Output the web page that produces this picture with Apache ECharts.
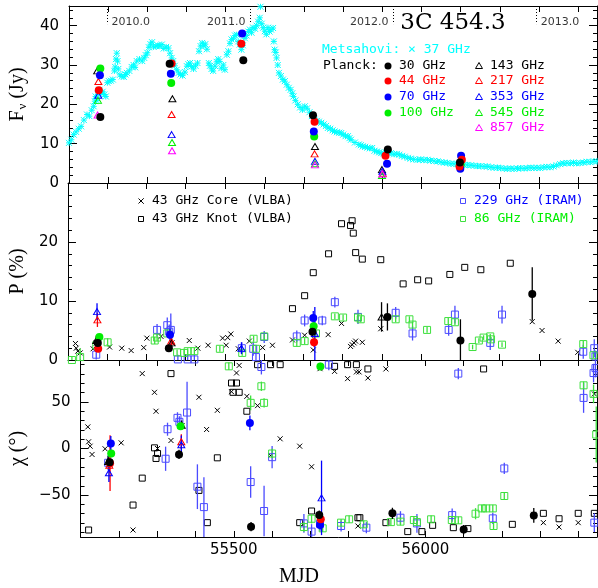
<!DOCTYPE html>
<html>
<head>
<meta charset="utf-8">
<script src="https://cdn.jsdelivr.net/npm/echarts@6.0.0/dist/echarts.min.js"></script>
<style>
  html, body { margin: 0; padding: 0; background: #fff; }
  #chart { width: 598px; height: 588px; }
</style>
</head>
<body>
<div id="chart"></div>
<script>
  // ---- axes ----
  const mjdMin = 55100;
  const mjdMax = 56448;
  const mjdTicks = [55100, 55200, 55300, 55400, 55500, 55600, 55700, 55800, 55900, 56000, 56100, 56200, 56300, 56400];
  const mjdLabels = [55500, 56000];
  const fluxMajor = [0, 10, 20, 30, 40];
  const fluxMinor = [2, 4, 6, 8, 12, 14, 16, 18, 22, 24, 26, 28, 32, 34, 36, 38, 42, 44];
  const polMajor = [0, 10, 20];
  const polMinor = [2, 4, 6, 8, 12, 14, 16, 18, 22, 24, 26, 28];
  const chiMajor = [-50, 0, 50];
  const chiMinor = [-90, -80, -70, -60, -40, -30, -20, -10, 10, 20, 30, 40, 60, 70, 80, 90];

  // year markers
  const yearMjd = [55197, 55562, 55927, 56293];
  const yearText = ['2010.0', '2011.0', '2012.0', '2013.0'];
  const yearSide = ['right', 'left', 'left', 'right'];

  // ---- panel 1: flux density (Jy) ----
  const metsahovi = [
    [55100, 10.2], [55106, 11.0], [55112, 12.3], [55118, 13.0], [55125, 13.8], [55131, 14.4], [55138, 16.0],
    [55146, 17.4], [55152, 17.0], [55158, 18.5], [55163, 19.5], [55166, 20.8], [55168, 22.0], [55171, 21.0],
    [55174, 22.5], [55178, 23.7], [55182, 22.8], [55186, 23.2], [55190, 22.5], [55194, 22.0], [55198, 25.5],
    [55202, 25.9], [55207, 26.0], [55212, 26.3], [55216, 28.5], [55218, 29.5], [55220, 31.5], [55222, 33.0],
    [55224, 31.0], [55226, 29.0], [55230, 27.5], [55235, 27.1], [55240, 27.0], [55244, 27.6], [55248, 28.0],
    [55254, 28.5], [55260, 29.5], [55265, 30.0], [55269, 29.4], [55273, 31.0], [55280, 31.5], [55287, 31.0],
    [55292, 31.8], [55296, 32.5], [55300, 33.1], [55304, 34.5], [55308, 35.3], [55312, 35.8], [55316, 34.6],
    [55322, 34.8], [55327, 35.0], [55332, 34.8], [55337, 35.2], [55342, 34.2], [55348, 34.6], [55354, 34.3],
    [55358, 33.0], [55362, 31.8], [55366, 31.0], [55370, 29.8], [55375, 28.8], [55380, 28.0], [55385, 27.6],
    [55390, 27.3], [55396, 28.2], [55401, 29.7], [55405, 30.2], [55409, 30.5], [55413, 29.6], [55418, 29.0],
    [55423, 29.8], [55428, 30.5], [55432, 33.5], [55436, 34.8], [55440, 35.6], [55444, 34.9], [55448, 35.3],
    [55452, 34.0], [55457, 30.5], [55460, 29.8], [55464, 29.0], [55468, 28.5], [55473, 29.7], [55477, 30.8],
    [55481, 31.5], [55485, 30.9], [55489, 29.2], [55494, 30.0], [55498, 28.8], [55503, 32.6], [55507, 33.5],
    [55511, 35.5], [55515, 36.5], [55520, 36.8], [55524, 37.5], [55528, 37.7], [55532, 36.0], [55536, 35.2],
    [55540, 33.9], [55544, 35.0], [55549, 36.8], [55553, 37.5], [55558, 38.5], [55562, 39.0], [55566, 38.2],
    [55570, 39.5], [55575, 39.2], [55579, 40.0], [55583, 41.0], [55587, 42.0], [55589, 44.8], [55592, 40.5],
    [55596, 39.5], [55600, 38.6], [55604, 37.8], [55608, 39.5], [55612, 38.5], [55616, 39.0], [55621, 39.4],
    [55623, 36.0], [55625, 33.9], [55628, 33.2], [55630, 31.8], [55633, 30.0], [55636, 28.0], [55641, 27.2],
    [55646, 26.3], [55651, 25.9], [55656, 25.0], [55661, 24.2], [55666, 23.7], [55670, 22.8], [55673, 22.0],
    [55678, 21.0], [55684, 20.0], [55690, 19.2], [55696, 18.6], [55702, 19.5], [55708, 19.0], [55714, 18.0],
    [55720, 17.0], [55727, 16.1], [55733, 15.8], [55738, 15.6], [55744, 15.3], [55750, 14.9], [55756, 14.5],
    [55761, 14.0], [55767, 13.8], [55773, 13.4], [55778, 13.1], [55784, 12.9], [55790, 12.8], [55795, 12.7],
    [55800, 12.3], [55806, 11.9], [55812, 11.9], [55816, 11.4], [55820, 11.0], [55830, 10.3], [55840, 9.8],
    [55845, 9.6], [55850, 9.3], [55856, 9.2], [55862, 9.0], [55868, 8.8], [55874, 8.9], [55880, 8.2],
    [55886, 8.0], [55892, 7.8], [55897, 7.6], [55904, 7.5], [55910, 7.7], [55916, 7.6], [55922, 7.6],
    [55930, 7.3], [55937, 7.4], [55943, 7.2], [55950, 6.9], [55957, 6.7], [55965, 6.4], [55972, 6.2],
    [55980, 6.0], [55990, 5.9], [55998, 6.0], [56006, 5.8], [56015, 5.9], [56023, 5.7], [56032, 5.6],
    [56041, 5.5], [56050, 5.3], [56058, 5.2], [56066, 5.1], [56075, 4.9], [56083, 4.9], [56092, 4.8],
    [56100, 4.7], [56108, 4.6], [56117, 4.6], [56126, 4.5], [56134, 4.4], [56143, 4.3], [56151, 4.3],
    [56160, 4.2], [56168, 4.2], [56177, 4.0], [56185, 3.9], [56194, 3.9], [56202, 3.8], [56211, 3.7],
    [56219, 3.6], [56228, 3.7], [56236, 3.6], [56245, 3.7], [56253, 3.8], [56262, 3.7], [56270, 3.8],
    [56279, 3.9], [56287, 3.8], [56295, 3.9], [56303, 3.8], [56312, 4.0], [56320, 4.1], [56328, 4.0],
    [56337, 4.2], [56345, 4.5], [56354, 4.8], [56362, 5.0], [56371, 5.1], [56380, 5.0], [56388, 5.2],
    [56396, 5.0], [56405, 5.1], [56414, 5.2], [56422, 5.4], [56431, 5.3], [56440, 5.5], [56448, 5.5]
  ];
  const planck30F = [[55180, 16.8], [55357, 30.3], [55545, 31.2], [55723, 17.2], [55914, 8.5], [56098, 5.2]];
  const planck44F = [[55176, 23.6], [55362, 30.4], [55540, 35.4], [55727, 15.6], [55908, 6.9], [56103, 5.9], [56097, 4.2]];
  const planck70F = [[55179, 27.4], [55360, 27.8], [55542, 38.0], [55725, 13.1], [55912, 4.9], [56101, 6.9], [56099, 3.6]];
  const planck100F = [[55180, 29.1], [55361, 25.4], [55726, 11.8], [56100, 4.6]];
  const planck143F = [[55172, 28.5], [55364, 21.4], [55728, 9.3], [55899, 3.4]];
  const planck217F = [[55175, 25.8], [55362, 17.4], [55727, 7.4], [55901, 2.5]];
  const planck353F = [[55175, 22.3], [55362, 12.3], [55728, 5.5], [55900, 3.0]];
  const planck545F = [[55174, 21.0], [55363, 10.3], [55728, 4.9], [55899, 1.9]];
  const planck857F = [[55173, 17.3], [55363, 8.2], [55728, 4.6], [55900, 2.3]];

  // ---- panel 2: polarization degree (%) [mjd, P, err] ----
  const coreP = [
    [55119, 2.8], [55121, 2.0], [55125, 1.5], [55131, 1.2], [55164, 1.9], [55172, 2.9], [55206, 2.2], [55237, 2.0],
    [55261, 1.6], [55293, 2.1], [55301, 3.7], [55337, 4.0], [55365, 2.9], [55409, 3.3], [55431, 2.0], [55457, 2.5],
    [55494, 3.7], [55503, 2.5], [55507, 3.8], [55515, 4.4], [55534, 1.9], [55562, 3.2], [55596, 2.1], [55621, 2.5],
    [55672, 3.4], [55703, 4.2], [55725, 1.7], [55763, 4.3], [55797, 6.2], [55820, 2.3], [55824, 2.6], [55829, 2.9],
    [55833, 3.2], [55850, 3.0], [55897, 5.3], [56283, 6.5], [56308, 5.0], [56349, 3.2], [56399, 1.3]
  ];
  const knotP = [
    [55672, 8.7], [55703, 10.9], [55725, 14.8], [55764, 18.0], [55797, 23.1], [55820, 22.8], [55824, 23.6],
    [55827, 21.5], [55833, 18.2], [55850, 17.1], [55897, 17.0], [55954, 12.9], [55991, 13.6], [56019, 13.4],
    [56073, 14.5], [56111, 15.7], [56152, 15.3], [56227, 16.4]
  ];
  const iram229P = [
    [55172, 0.9, 0.8], [55327, 5.1, 1.0], [55353, 5.9, 1.3], [55358, 4.8, 1.2], [55362, 5.1, 2.8], [55380, 0.1, 0.8],
    [55405, 0.1, 0.8], [55422, 0.1, 0.8], [55543, 2.0, 1.0], [55572, 1.9, 1.2], [55579, 0.5, 0.8], [55600, 3.9, 1.0],
    [55683, 4.0, 1.0], [55703, 6.7, 1.0], [55748, 6.7, 0.8], [55780, 9.8, 0.9], [55839, 7.3, 1.2], [55935, 8.0, 1.0],
    [55978, 4.5, 1.2], [56070, 5.1, 1.0], [56086, 7.7, 1.5], [56176, 2.9, 1.2], [56206, 7.7, 1.5], [56413, 1.4, 1.2],
    [56441, 2.0, 1.5], [56444, 0.6, 1.0]
  ];
  const iram86P = [
    [55110, 0.0, 0.5], [55131, 0.5, 1.5], [55172, 2.5, 0.6], [55201, 3.0, 0.7], [55321, 3.3, 0.6], [55327, 3.8, 0.6],
    [55353, 4.5, 0.6], [55378, 1.3, 0.5], [55396, 1.2, 0.5], [55405, 1.5, 0.5], [55422, 1.5, 0.6], [55487, 1.9, 0.5],
    [55544, 1.2, 0.5], [55573, 3.6, 0.5], [55579, 1.9, 0.5], [55600, 4.0, 0.6], [55683, 2.9, 0.6], [55703, 3.2, 0.5],
    [55732, 4.5, 0.5], [55780, 7.4, 0.5], [55801, 7.2, 0.5], [55839, 7.2, 0.5], [55846, 6.9, 0.5], [55935, 6.9, 0.5],
    [55970, 6.9, 0.5], [55978, 6.0, 0.5], [56015, 5.1, 0.5], [56069, 6.6, 0.5], [56086, 6.4, 0.5], [56131, 2.2, 0.4],
    [56147, 3.3, 0.4], [56159, 3.8, 0.4], [56176, 4.0, 0.4], [56178, 3.5, 0.4], [56206, 2.6, 0.4], [56413, 2.7, 0.5],
    [56439, 0.8, 0.5]
  ];
  const planck30P = [[55176, 2.9, 0.6], [55357, 2.0, 0.5], [55723, 4.8, 1.0], [55914, 7.3, 2.3], [56100, 3.3, 3.6], [56283, 11.2, 4.5]];
  const planck44P = [[55177, 1.9, 0.6], [55727, 3.0, 0.8]];
  const planck70P = [[55360, 4.3, 1.0], [55725, 7.1, 1.2]];
  const planck100P = [[55180, 3.9, 0.5], [55726, 5.7, 1.0]];
  const planck143P = [[55172, 3.3, 0.8], [55364, 2.9, 0.8], [55899, 7.3, 2.5]];
  const planck217P = [[55175, 6.8, 1.2], [55363, 3.2, 1.0]];
  const planck353P = [[55174, 8.2, 1.4], [55542, 2.0, 1.0], [55729, 4.5, 4.5]];

  // ---- panel 3: polarization angle (deg) [mjd, chi, err] ----
  const coreChi = [
    [55119, 23.2], [55121, 7.2], [55125, 2.5], [55130, -6.4], [55164, -0.3], [55206, 6.1], [55237, -87.5], [55261, 80.4],
    [55293, 60.3], [55297, 40.0], [55301, 0.0], [55336, 8.6], [55365, 24.6], [55409, 55.0], [55429, 20.4], [55457, 41.0],
    [55494, 61.0], [55507, 81.1], [55514, 89.2], [55534, 56.0], [55562, 46.0], [55596, -7.5], [55621, 10.4], [55672, 2.5],
    [55703, -19.6], [55725, 85.7], [55763, 82.8], [55797, 75.0], [55820, 82.2], [55827, 82.2], [55824, -83.2], [55850, 75.7],
    [55897, 85.4], [56283, -70.7], [56308, -79.6], [56349, -84.3], [56399, -79.6], [56441, 58.6]
  ];
  const knotChi = [
    [55121, -87.5], [55237, -60.7], [55261, -31.8], [55293, 0.7], [55297, -10.7], [55301, -5.4], [55336, 80.4], [55409, -45.0],
    [55431, -79.6], [55457, -10.0], [55494, 70.3], [55507, 70.3], [55498, 60.3], [55514, 60.3], [55534, 40.0], [55562, 90.0],
    [55596, 90.0], [55621, 90.0], [55672, -79.6], [55703, -67.1], [55763, 88.2], [55797, 90.0], [55820, 90.0], [55824, -74.3],
    [55829, -74.3], [55850, 85.4], [55897, -79.6], [55954, -89.2], [55991, -89.2], [56019, -82.5], [56073, -85.0],
    [56111, -86.0], [56152, 85.4], [56227, -81.4], [56308, -69.6], [56349, -75.4], [56399, -69.6], [56441, -69.6]
  ];
  const iram229Chi = [
    [55172, -15.3, 8], [55322, -11, 13], [55327, 20.7, 7], [55353, 32.9, 6], [55358, 28.6, 6], [55378, 38.6, 33],
    [55405, -41, 24], [55422, -62.9, 32], [55544, -36, 17], [55572, 87.5, 8], [55579, -67.1, 27], [55600, -9.3, 12],
    [55683, -80.4, 10], [55703, -89.2, 8], [55725, -80.7, 8], [55748, 90, 6], [55780, -83.2, 6], [55846, -85, 6],
    [55935, -74.3, 7], [55978, -80.4, 10], [56070, -71.5, 7], [56086, 80.4, 6], [56176, -75, 6], [56206, -21.4, 6],
    [56413, 54.3, 16], [56439, 81, 10], [56444, 86.3, 10], [56441, -79.6, 10]
  ];
  const iram86Chi = [
    [55487, 88.2, 4], [55544, 49, 8], [55572, 66.8, 5], [55579, 49, 5], [55600, -5.4, 5], [55683, -84.3, 5],
    [55703, -75.4, 5], [55732, -85.7, 4], [55780, -79.6, 4], [55801, -76, 4], [55839, -81.4, 4], [55910, -79, 4],
    [55935, -78.5, 4], [55970, -76.8, 4], [55978, -79, 4], [56015, -76, 4], [56069, -76.8, 4], [56086, -77.1, 4],
    [56131, -70, 6], [56147, -64.3, 4], [56159, -64.3, 4], [56176, -64.3, 4], [56178, -83.2, 4], [56206, -51, 4],
    [56413, 67.8, 4], [56439, 58.6, 10], [56446, 15, 30]
  ];
  const planck30Chi = [[55176, -14.7, 5], [55357, -6.4, 5], [55545, -83.9, 5], [55723, -71.5, 5], [55914, -69.6, 6], [56100, -87, 5], [56283, -71.8, 8]];
  const planck44Chi = [[55177, -15.7, 30], [55727, -76, 6]];
  const planck70Chi = [[55179, 5.4, 8], [55542, 27.5, 8], [55725, -82, 5]];
  const planck100Chi = [[55180, -5.4, 4], [55361, 23.9, 4], [55726, 88, 4]];
  const planck143Chi = [[55172, -14, 6], [55364, 25, 5]];
  const planck217Chi = [[55175, -18, 8], [55363, 7.2, 8]];
  const planck353Chi = [[55174, -26, 10], [55363, 4, 10], [55729, -53, 40]];

  // ---- styles ----
  const BLACK = '#000000', RED = '#ff0000', BLUE = '#0000ff', GREEN = '#00ee00', MAGENTA = '#ff00ff', CYAN = '#00ffff';
  const IRAM_BLUE = '#4b4bff', IRAM_GREEN = '#3ee03e';
  const CROSS = 'path://M0,0L10,10M10,0L0,10';
  const STAR = 'path://M0,0L10,10M10,0L0,10M5,0L5,10M0,5L10,5';
  const SQUARE = 'path://M0,0L10,0L10,10L0,10Z';
  const TRI = 'path://M5,0L10,9L0,9Z';
  const TICK_FONT = 'DejaVu Sans';
  const SERIF = 'Liberation Serif';

  const grids = [
    { left: 67, width: 530, top: 6, height: 177 },
    { left: 67, width: 530, top: 183, height: 177 },
    { left: 67, width: 530, top: 360, height: 177 },
  ];

  const xAxes = [];
  grids.forEach((g, i) => {
    ['bottom', 'top'].forEach((pos) => {
      xAxes.push({
        type: 'value', gridIndex: i, position: pos, min: mjdMin, max: mjdMax,
        splitLine: { show: false },
        axisLine: { show: true, onZero: false, lineStyle: { color: '#000', width: 1 } },
        axisTick: { show: true, inside: true, length: 6, customValues: mjdTicks, lineStyle: { color: '#000' } },
        axisLabel: {
          show: i === 2 && pos === 'bottom', customValues: mjdLabels, margin: 6,
          color: '#000', fontFamily: TICK_FONT, fontSize: 15,
          formatter: (v) => String(v),
        },
      });
    });
  });

  const yAxes = [];
  function addY(gi, min, max, major, minor, name, nameGap, rich) {
    ['left', 'right'].forEach((pos) => {
      yAxes.push({
        type: 'value', gridIndex: gi, position: pos, min, max,
        name: pos === 'left' ? name : '', nameLocation: 'middle', nameRotate: 90, nameGap,
        nameTextStyle: { color: '#000', fontFamily: SERIF, fontSize: 20, rich },
        splitLine: { show: false },
        axisLine: { show: true, onZero: false, lineStyle: { color: '#000', width: 1 } },
        axisTick: { show: true, inside: true, length: 8, customValues: major, lineStyle: { color: '#000' } },
        axisLabel: {
          show: pos === 'left', customValues: major, margin: 10, color: '#000', fontFamily: TICK_FONT, fontSize: 15,
          formatter: (v) => String(v).replace('-', '\u2212'),
        },
      });
      yAxes.push({
        type: 'value', gridIndex: gi, position: pos, min, max,
        splitLine: { show: false }, axisLine: { show: false },
        axisTick: { show: true, inside: true, length: 4, customValues: minor, lineStyle: { color: '#000' } },
        axisLabel: { show: false },
      });
    });
  }
  addY(0, 0, 45, fluxMajor, fluxMinor, '{f|F}{s|\u03bd}{f| (Jy)}', 38, {
    f: { fontFamily: SERIF, fontSize: 20, color: '#000' },
    s: { fontFamily: SERIF, fontSize: 13, color: '#000', padding: [9, 0, 0, 1] },
  });
  addY(1, 0, 30, polMajor, polMinor, 'P (%)', 38);
  addY(2, -95, 95, chiMajor, chiMinor, '\u03c7 (\u00b0)', 38);

  const series = [];
  // scatter helper; g = panel index
  function sc(data, g, symbol, color, size, z, filled) {
    series.push({
      type: 'scatter', data, xAxisIndex: g * 2, yAxisIndex: g * 4, symbol, symbolSize: size, z,
      clip: true, silent: true,
      itemStyle: filled
        ? { color, opacity: 1 }
        : { color: 'rgba(0,0,0,0)', borderColor: color, borderWidth: 1, opacity: 1 },
    });
  }
  function err(data, g, color, z) {
    series.push({
      type: 'custom', data, xAxisIndex: g * 2, yAxisIndex: g * 4, z, clip: true, silent: true,
      encode: { x: 0, y: 1 },
      renderItem: (params, api) => {
        const x = api.value(0), v = api.value(1), e = api.value(2);
        const a = api.coord([x, v - e]);
        const b = api.coord([x, v + e]);
        return { type: 'line', shape: { x1: a[0], y1: a[1], x2: b[0], y2: b[1] }, style: { stroke: color, lineWidth: 1.3 } };
      },
    });
  }

  // panel 1
  sc(metsahovi, 0, STAR, CYAN, 6, 2, false);
  sc(planck143F, 0, TRI, BLACK, [7, 6], 4, false);
  sc(planck217F, 0, TRI, RED, [7, 6], 4, false);
  sc(planck353F, 0, TRI, BLUE, [7, 6], 4, false);
  sc(planck545F, 0, TRI, GREEN, [7, 6], 4, false);
  sc(planck857F, 0, TRI, MAGENTA, [7, 6], 4, false);
  sc(planck100F, 0, 'circle', GREEN, 8, 5, true);
  sc(planck70F, 0, 'circle', BLUE, 8, 5, true);
  sc(planck44F, 0, 'circle', RED, 8, 5, true);
  sc(planck30F, 0, 'circle', BLACK, 8, 5, true);
  // year markers
  series.push({
    type: 'scatter', xAxisIndex: 0, yAxisIndex: 0, symbol: 'circle', symbolSize: 1, silent: true, z: 6,
    itemStyle: { color: 'rgba(0,0,0,0)' },
    data: yearMjd.map((m, i) => ({
      value: [m, 41.0],
      label: { show: true, position: yearSide[i], distance: 4, formatter: yearText[i], color: '#000', fontFamily: TICK_FONT, fontSize: 11 },
    })),
    markLine: {
      silent: true, symbol: ['none', 'none'], label: { show: false },
      lineStyle: { color: '#000', type: [1, 2], width: 1 },
      data: yearMjd.map((m) => [{ coord: [m, 45] }, { coord: [m, 40.4] }]),
    },
  });

  // panels 2 and 3
  const panels = [
    { g: 1, core: coreP, knot: knotP, i229: iram229P, i86: iram86P,
      pl: [planck30P, planck44P, planck70P, planck100P, planck143P, planck217P, planck353P] },
    { g: 2, core: coreChi, knot: knotChi, i229: iram229Chi, i86: iram86Chi,
      pl: [planck30Chi, planck44Chi, planck70Chi, planck100Chi, planck143Chi, planck217Chi, planck353Chi] },
  ];
  panels.forEach((p) => {
    sc(p.core, p.g, CROSS, BLACK, 5, 2, false);
    sc(p.knot, p.g, SQUARE, BLACK, 6, 2, false);
    err(p.i229, p.g, IRAM_BLUE, 3);
    sc(p.i229, p.g, SQUARE, IRAM_BLUE, 7, 3, false);
    err(p.i86, p.g, IRAM_GREEN, 3);
    sc(p.i86, p.g, SQUARE, IRAM_GREEN, 7, 3, false);
    const plColors = [BLACK, RED, BLUE, GREEN, BLACK, RED, BLUE];
    p.pl.forEach((d, k) => err(d, p.g, plColors[k], 4));
    sc(p.pl[4], p.g, TRI, BLACK, [7, 6], 5, false);
    sc(p.pl[5], p.g, TRI, RED, [7, 6], 5, false);
    sc(p.pl[6], p.g, TRI, BLUE, [7, 6], 5, false);
    sc(p.pl[3], p.g, 'circle', GREEN, 8, 5, true);
    sc(p.pl[2], p.g, 'circle', BLUE, 8, 5, true);
    sc(p.pl[1], p.g, 'circle', RED, 8, 5, true);
    sc(p.pl[0], p.g, 'circle', BLACK, 8, 5, true);
  });

  // ---- legend / annotations ----
  function txt(x, y, text, fill, font, align) {
    return { type: 'text', x, y, z: 20, style: { text, fill, font, verticalAlign: 'middle', align: align || 'left' } };
  }
  function dot(x, y, c) { return { type: 'circle', z: 20, shape: { cx: x, cy: y, r: 3.5 }, style: { fill: c } }; }
  function tri(x, y, c) {
    return { type: 'polygon', z: 20, shape: { points: [[x, y - 3.5], [x + 3.5, y + 2.5], [x - 3.5, y + 2.5]] }, style: { fill: 'none', stroke: c, lineWidth: 1 } };
  }
  function box(x, y, c) { return { type: 'rect', z: 20, shape: { x: x - 2.5, y: y - 2.5, width: 5, height: 5 }, style: { fill: 'none', stroke: c, lineWidth: 1 } }; }
  function cross(x, y, c) {
    return { type: 'polyline', z: 20, shape: { points: [[x - 2.5, y - 2.5], [x + 2.5, y + 2.5], [x, y], [x + 2.5, y - 2.5], [x - 2.5, y + 2.5]] }, style: { fill: 'none', stroke: c, lineWidth: 1 } };
  }
  const LF = '13px "DejaVu Sans Mono"';
  const rows = [66, 81, 97, 113, 128];
  const col1 = [['30 GHz', BLACK], ['44 GHz', RED], ['70 GHz', BLUE], ['100 GHz', GREEN]];
  const col2 = [['143 GHz', BLACK], ['217 GHz', RED], ['353 GHz', BLUE], ['545 GHz', GREEN], ['857 GHz', MAGENTA]];
  const graphic = [
    txt(453, 23, '3C 454.3', '#000', '23px "DejaVu Serif"', 'center'),
    txt(322, 50, 'Metsahovi: \u00d7 37 GHz', CYAN, LF),
    txt(323, 66, 'Planck:', '#000', LF),
    txt(299, 577, 'MJD', '#000', '20px "Liberation Serif"', 'center'),
    cross(141, 201, BLACK), txt(152, 201, '43 GHz Core (VLBA)', '#000', LF),
    box(141, 219, BLACK), txt(152, 219, '43 GHz Knot (VLBA)', '#000', LF),
    box(463, 201, IRAM_BLUE), txt(474, 201, '229 GHz (IRAM)', BLUE, LF),
    box(463, 219, IRAM_GREEN), txt(474, 219, '86 GHz (IRAM)', GREEN, LF),
  ];
  col1.forEach((c, i) => { graphic.push(dot(388, rows[i], c[1]), txt(399, rows[i], c[0], c[1], LF)); });
  col2.forEach((c, i) => { graphic.push(tri(479, rows[i], c[1]), txt(490, rows[i], c[0], c[1], LF)); });

  const chart = echarts.init(document.getElementById('chart'));
  chart.setOption({
    animation: false,
    backgroundColor: '#fff',
    grid: grids,
    xAxis: xAxes,
    yAxis: yAxes,
    series,
    graphic,
  });
</script>
</body>
</html>
